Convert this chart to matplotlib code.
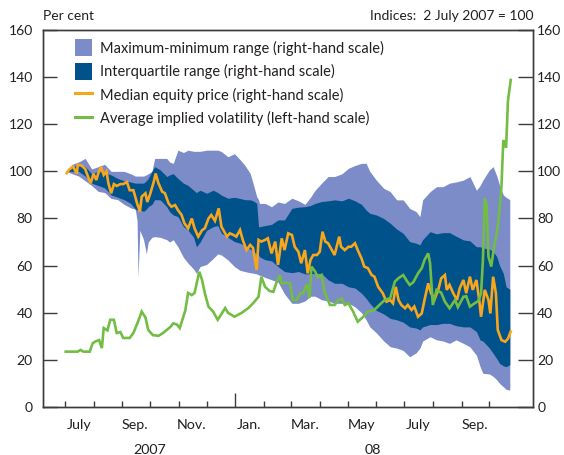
import matplotlib
matplotlib.use("Agg")
import matplotlib.pyplot as plt
import pandas as pd
from matplotlib.patches import Patch
from matplotlib.lines import Line2D
from matplotlib.ticker import FixedLocator, NullFormatter

plt.rcParams['font.family'] = ['Lato', 'DejaVu Sans']

BASE = pd.Timestamp('2007-07-02')

# band series, days after 2 July 2007 (index = 100)
band_day = [0, 7, 14, 21, 28, 35, 42, 49, 56, 63,
            70, 75, 77, 78, 80, 84, 87, 89, 93, 96,
            102, 109, 112, 116, 121, 127, 132, 138, 141, 145,
            152, 159, 164, 168, 175, 182, 188, 193, 199, 202,
            206, 208, 209, 215, 222, 229, 236, 244, 251, 258,
            264, 269, 276, 283, 290, 298, 305, 312, 319, 324,
            328, 335, 343, 350, 357, 364, 371, 378, 382, 385,
            393, 400, 407, 414, 421, 429, 436, 443, 447, 450,
            457, 461, 465, 468, 472, 475, 479]
range_max = [100, 103, 104, 105.5, 101, 102, 103, 100, 100, 100,
             99, 98, 98, 98, 98, 98, 98.5, 99, 100, 105.5,
             105.5, 105.5, 104, 103.4, 109, 108, 109, 108.5, 108.5, 108.5,
             109, 109, 109, 108.4, 106.2, 107.5, 105, 102.7, 99.1, 95,
             89.3, 88, 86.4, 86.4, 85, 87, 86.4, 88.6, 87.5, 86,
             89, 92, 95, 97.8, 97.8, 99, 101.3, 102.5, 103.4, 103.4,
             100, 96.3, 92.8, 91.4, 87.9, 87.9, 84.3, 82.9, 80.8, 87.9,
             91.4, 93.5, 93.5, 95, 95.5, 96.3, 97.8, 92, 94, 96.3,
             100.6, 102, 98, 94, 90, 89, 88]
quart_upper = [100, 102, 102.5, 102, 99, 100, 99.5, 98.5, 97, 96,
               95.5, 95, 95, 95, 95, 95, 96, 97, 100, 102,
               100.6, 97.8, 98.5, 99, 97, 95, 94, 92, 91, 92,
               90.7, 92, 91, 89.9, 88.6, 89, 88.5, 88, 87.9, 87.5,
               86.5, 76.5, 76.5, 77, 77.5, 79.4, 79.4, 84.3, 84.8, 85,
               85.5, 86.4, 87.2, 87.5, 87.9, 87.5, 88.6, 87.5, 86, 83.6,
               82.2, 81.5, 80, 78, 75.5, 73.7, 70.2, 69.5, 68.8, 71,
               74.4, 73.5, 74, 74, 72.5, 70.9, 70.5, 68, 68, 67.5,
               67, 66, 63.8, 60, 56.7, 51, 50]
quart_lower = [100, 100, 100, 98, 95, 94, 93, 90, 89, 88,
               86.4, 84, 83.6, 83.6, 83.6, 83, 84, 85, 86, 88,
               87.9, 85, 82.9, 81.5, 80.8, 76.5, 75, 72, 68, 70,
               75, 76.5, 77, 73.7, 72, 70.2, 69.5, 68.5, 67, 66,
               65, 64.5, 63.8, 62.5, 62, 59.6, 57.5, 57, 57.5, 56.5,
               56.5, 56.7, 56.7, 54, 52.5, 52.5, 51, 50.5, 48.3, 46.1,
               44, 41, 39.5, 37.6, 37, 36, 34, 33.5, 32.7, 34,
               35, 35, 35.5, 35.5, 34.5, 34, 34, 32, 28.4, 28,
               25, 22.8, 20.5, 18.5, 17.5, 17.1, 18]
range_min = [100, 99, 98, 96, 94, 91.5, 91, 88.5, 88, 86,
             84.5, 84, 79, 55, 75, 71, 65, 70, 72, 72.3,
             72, 71, 70, 71, 68, 63.5, 61, 58.5, 56.7, 59.6,
             60.5, 63, 65, 64.5, 62.4, 59.6, 58, 57.5, 57, 56.8,
             56.5, 56, 56, 55, 54, 53, 48, 44, 44, 45,
             47, 47, 45.5, 45, 44, 44, 44, 42.5, 40, 37,
             34, 31.5, 28, 25.6, 25, 24, 21.3, 23, 25, 28,
             29.8, 28.5, 28, 27, 28.5, 27, 25.5, 22, 17.1, 14.3,
             14, 13, 11.5, 10, 8.6, 7.5, 7.2]

median_day = [1, 4, 8, 12, 13, 17, 21, 24, 27, 30, 33, 35, 38, 41, 44, 46, 49,
              52, 55, 59, 62, 66, 69, 73, 77, 80, 82, 86, 88, 91, 95, 97, 100,
              104, 107, 111, 114, 118, 121, 125, 128, 132, 136, 139, 143, 147,
              150, 154, 157, 161, 165, 168, 174, 177, 181, 184, 188, 191, 195,
              199, 202, 206, 208, 211, 215, 218, 222, 226, 229, 233, 236, 240,
              244, 247, 251, 254, 258, 261, 264, 267, 271, 274, 277, 280, 283,
              287, 290, 295, 297, 301, 305, 308, 312, 315, 319, 322, 326, 330,
              333, 337, 342, 346, 350, 353, 356, 359, 362, 366, 369, 373, 376,
              380, 384, 387, 391, 394, 398, 402, 405, 409, 411, 414, 418, 422,
              425, 429, 432, 436, 439, 443, 446, 448, 452, 456, 458, 461, 464,
              466, 470, 474, 477, 480]
median_price = [99.2, 100.9, 102, 99, 102.7, 102.5, 101, 97.8, 95, 99, 96.3,
                99, 102, 98.5, 100, 95, 90.7, 94.6, 93.8, 94.6, 94.6, 95.5, 92,
                92, 86.4, 82.9, 89.3, 90.7, 87, 90.3, 95.6, 99.1, 95, 91.4, 90.7,
                86.4, 85, 85.7, 83.6, 81.5, 78, 75.8, 80, 75.8, 72.3, 75, 75.8,
                80, 81.5, 79, 84.3, 76.5, 72.3, 73.7, 73, 72.3, 75.1, 70.9, 66.6,
                68.8, 67.5, 58.1, 70.9, 70.2, 70.9, 71.6, 65.2, 70.2, 60.3, 71.6,
                66.6, 73.7, 73, 68, 65.9, 61, 66.6, 56.7, 62.4, 64.5, 64.5, 65.9,
                74.4, 70.2, 69.5, 66.6, 64.5, 72.3, 68, 66.6, 68, 68, 69.5, 66.6,
                63.1, 59.6, 58.9, 56, 55.3, 51, 48.3, 44.7, 45.4, 44, 51, 45.4,
                43.3, 41.9, 43.3, 41.2, 42.6, 38.3, 39.7, 45.4, 52.5, 48.3, 45.8,
                50, 54.6, 56, 49.7, 51.8, 48.3, 45.4, 50.4, 53.9, 48.3, 55.3,
                49.7, 53.9, 45.4, 38.3, 49.7, 45.4, 39.7, 55.3, 48.3, 32.7, 28.4,
                27.7, 29, 32]

vol_day = [0, 13, 16, 19, 26, 29, 32, 36, 39, 41, 45, 48, 52, 55, 59, 62, 69,
           73, 78, 82, 86, 89, 94, 100, 105, 113, 116, 120, 123, 129, 132, 136,
           139, 144, 147, 150, 154, 159, 164, 172, 175, 182, 190, 197, 202, 208,
           211, 215, 220, 224, 227, 231, 233, 238, 242, 245, 249, 253, 256, 260,
           263, 265, 269, 272, 276, 279, 285, 290, 294, 298, 301, 305, 310, 315,
           321, 326, 332, 335, 344, 350, 355, 359, 364, 368, 371, 375, 380, 384,
           387, 391, 393, 396, 400, 405, 409, 414, 420, 423, 429, 432, 436, 441,
           445, 448, 450, 452, 454, 456, 459, 462, 465, 467, 470, 472, 475, 477,
           480]
implied_vol = [23.5, 23.5, 24.2, 23.5, 23.5, 27, 27.8, 28.4, 25, 33.5, 32.5,
               37, 37, 31.4, 31.8, 29.3, 29.3, 31.4, 36.2, 40.5, 38, 32.7, 30.5,
               30.2, 31.4, 34, 35.5, 35, 33.5, 41, 48.4, 47.5, 48.4, 57.4, 54,
               48.4, 42.6, 40.5, 37, 42, 40, 38.3, 40, 42, 44, 46.8, 55.3, 51,
               49.2, 48.9, 52.5, 56, 52.5, 52.8, 52.5, 45.4, 45.4, 48.3, 48.3, 52,
               46.4, 59.6, 57.5, 55, 56, 49, 43.3, 43.3, 45.4, 46, 43.3, 44, 40.5,
               36.2, 38.3, 40.5, 41, 42, 45.4, 46.2, 53.2, 54.7, 56, 53.5, 51.8,
               53, 56.7, 58.9, 62.4, 65.2, 61, 43.3, 49.7, 48.5, 44.7, 41.9, 45.4,
               42.4, 46.8, 47, 42.6, 44, 45, 48.2, 62.4, 88.6, 86, 63.8, 59.6, 68,
               73.7, 80, 93.5, 113.3, 110, 130, 138.8]

month_labels = ['July', 'Sep.', 'Nov.', 'Jan.', 'Mar.', 'May', 'July', 'Sep.']
month_label_dates = ['2007-07-16', '2007-09-15', '2007-11-15', '2008-01-16',
                     '2008-03-16', '2008-05-16', '2008-07-16', '2008-09-15']
year_labels = ['2007', '08']
year_label_dates = ['2007-10-01', '2008-05-28']
y_ticks = [0, 20, 40, 60, 80, 100, 120, 140, 160]

LIGHT = '#7b8cc8'
DARK = '#00528a'
ORANGE = '#f8a61c'
GREEN = '#73bd44'
INK = '#231f20'
FRAME = '#3c3c3c'
FS = 10.3


def to_dates(days):
    return BASE + pd.to_timedelta(days, unit='D')


fig = plt.figure(figsize=(5.64, 4.55), dpi=100)
ax = fig.add_axes([0.0754, 0.1055, 0.8696, 0.8286])
ax2 = ax.twinx()
ax.set_zorder(ax2.get_zorder() + 1)
ax.patch.set_visible(False)

bd = to_dates(band_day)
ax2.fill_between(bd, range_min, range_max, color=LIGHT, lw=0)
ax2.fill_between(bd, quart_lower, quart_upper, color=DARK, lw=0)
ax2.plot(to_dates(median_day), median_price, color=ORANGE, lw=1.9,
         solid_joinstyle='miter')
ax.plot(to_dates(vol_day), implied_vol, color=GREEN, lw=1.9,
        solid_joinstyle='miter')

for a in (ax, ax2):
    a.set_ylim(0, 160)
    a.set_yticks(y_ticks)
    a.set_xlim(pd.Timestamp('2007-06-07'), pd.Timestamp('2008-11-17'))
    for s in a.spines.values():
        s.set_color(FRAME)
        s.set_linewidth(1.0)

ax.tick_params(axis='y', direction='in', length=10, width=1, pad=7,
               labelsize=10, colors=FRAME, labelcolor=INK)
ax2.tick_params(axis='y', direction='in', length=11, width=1, pad=3,
                labelsize=10, colors=FRAME, labelcolor=INK)

# monthly ticks, longer one at the turn of the year
months = pd.date_range('2007-07-01', '2008-10-01', freq='MS')
year_turn = pd.Timestamp('2008-01-01')
ax.xaxis.set_major_locator(FixedLocator(
    [matplotlib.dates.date2num(m) for m in months if m != year_turn]))
ax.xaxis.set_minor_locator(FixedLocator([matplotlib.dates.date2num(year_turn)]))
ax.xaxis.set_major_formatter(NullFormatter())
ax.xaxis.set_minor_formatter(NullFormatter())
ax.tick_params(axis='x', which='major', direction='in', length=4.3, width=1,
               colors=FRAME)
ax.tick_params(axis='x', which='minor', direction='in', length=10, width=1,
               colors=FRAME)

tr = ax.get_xaxis_transform()
for lab, d in zip(month_labels, month_label_dates):
    ax.text(pd.Timestamp(d), -0.048, lab, transform=tr, ha='center',
            va='center', fontsize=FS, color=INK)
for lab, d in zip(year_labels, year_label_dates):
    ax.text(pd.Timestamp(d), -0.114, lab, transform=tr, ha='center',
            va='center', fontsize=FS, color=INK)

fig.text(43 / 564, 1 - 16 / 455, 'Per cent', ha='left', va='center',
         fontsize=10, color=INK)
fig.text(533 / 564, 1 - 16 / 455, 'Indices:  2 July 2007 = 100', ha='right',
         va='center', fontsize=10, color=INK)

handles = [Patch(facecolor=LIGHT, edgecolor='none'),
           Patch(facecolor=DARK, edgecolor='none'),
           Line2D([], [], color=ORANGE, lw=2.2),
           Line2D([], [], color=GREEN, lw=2.2)]
labels = ['Maximum-minimum range (right-hand scale)',
          'Interquartile range (right-hand scale)',
          'Median equity price (right-hand scale)',
          'Average implied volatility (left-hand scale)']
leg = ax.legend(handles, labels, loc='upper left',
                bbox_to_anchor=(0.066, 0.975), frameon=False, fontsize=10.5,
                handlelength=1.16, handleheight=1.41, handletextpad=0.55,
                labelspacing=0.45, borderpad=0, borderaxespad=0)
for t in leg.get_texts():
    t.set_color(INK)

fig.savefig('out.png', dpi=100)
